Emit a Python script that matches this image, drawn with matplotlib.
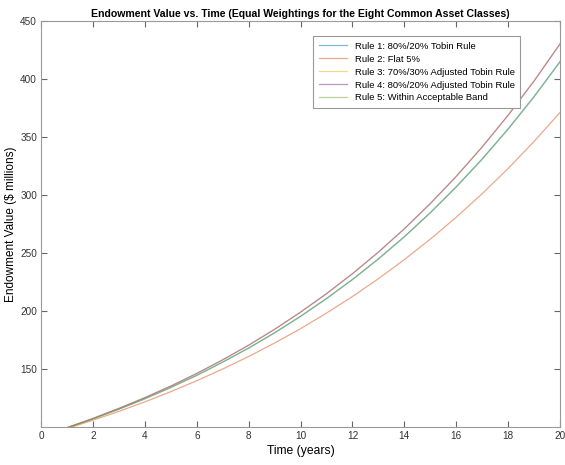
import matplotlib
matplotlib.use("Agg")
import matplotlib.pyplot as plt

plt.rcParams['font.family'] = ['Liberation Sans', 'DejaVu Sans']

years = list(range(0, 21))
# endowment value ($ millions)
rule1 = [92.0, 99.2, 107.0, 115.3, 124.3, 134.1, 144.5, 155.9, 168.0, 181.2, 195.4,
         210.7, 227.1, 244.9, 264.0, 284.7, 307.0, 331.0, 356.9, 384.8, 414.9]
rule2 = [92.0, 98.6, 105.8, 113.4, 121.6, 130.4, 139.8, 149.9, 160.7, 172.3, 184.7,
         198.1, 212.4, 227.7, 244.2, 261.8, 280.7, 301.0, 322.7, 346.0, 371.0]
rule3 = [92.0, 99.4, 107.3, 116.0, 125.3, 135.3, 146.2, 157.9, 170.5, 184.2, 199.0,
         214.9, 232.2, 250.8, 270.9, 292.7, 316.1, 341.5, 368.9, 398.4, 430.4]
rule4 = [92.0, 99.4, 107.3, 116.0, 125.2, 135.2, 146.1, 157.8, 170.4, 184.1, 198.9,
         214.8, 232.0, 250.6, 270.7, 292.4, 315.8, 341.2, 368.5, 398.0, 429.9]
rule5 = [92.0, 99.2, 107.0, 115.3, 124.2, 134.0, 144.4, 155.8, 167.9, 181.0, 195.2,
         210.5, 226.9, 244.6, 263.7, 284.4, 306.6, 330.6, 356.4, 384.3, 414.4]

labels = ['Rule 1: 80%/20% Tobin Rule', 'Rule 2: Flat 5%',
          'Rule 3: 70%/30% Adjusted Tobin Rule', 'Rule 4: 80%/20% Adjusted Tobin Rule',
          'Rule 5: Within Acceptable Band']
colors = ['#0072BD', '#D95319', '#EDB120', '#7E2F8E', '#77AC30']

fig = plt.figure(figsize=(5.65, 4.65), dpi=100)
ax = fig.add_axes([0.073, 0.082, 0.918, 0.873])

for vals, lab, col in zip([rule1, rule2, rule3, rule4, rule5], labels, colors):
    ax.plot(years, vals, color=col, linewidth=0.9, alpha=0.5, label=lab)

ax.set_xlim(0, 20)
ax.set_ylim(100, 450)
ax.set_xticks(range(0, 21, 2))
ax.set_yticks(range(150, 451, 50))
ax.tick_params(direction='in', top=True, right=True, labelsize=7.2, colors='#666666',
               labelcolor='#333333', length=4, pad=3)
for s in ax.spines.values():
    s.set_color('#999999')

ax.set_title('Endowment Value vs. Time (Equal Weightings for the Eight Common Asset Classes)',
             fontsize=7.6, fontweight='bold', pad=3)
ax.set_xlabel('Time (years)', fontsize=8.7, labelpad=3)
ax.set_ylabel('Endowment Value (\\$ millions)', fontsize=8.5, labelpad=2)

leg = ax.legend(loc='upper right', bbox_to_anchor=(0.924, 0.963), borderaxespad=0,
                fontsize=6.8, fancybox=False, framealpha=1, edgecolor='#999999',
                handlelength=3.0, borderpad=0.6, labelspacing=0.42)
leg.get_frame().set_linewidth(0.8)

fig.savefig('out.png', dpi=100)
